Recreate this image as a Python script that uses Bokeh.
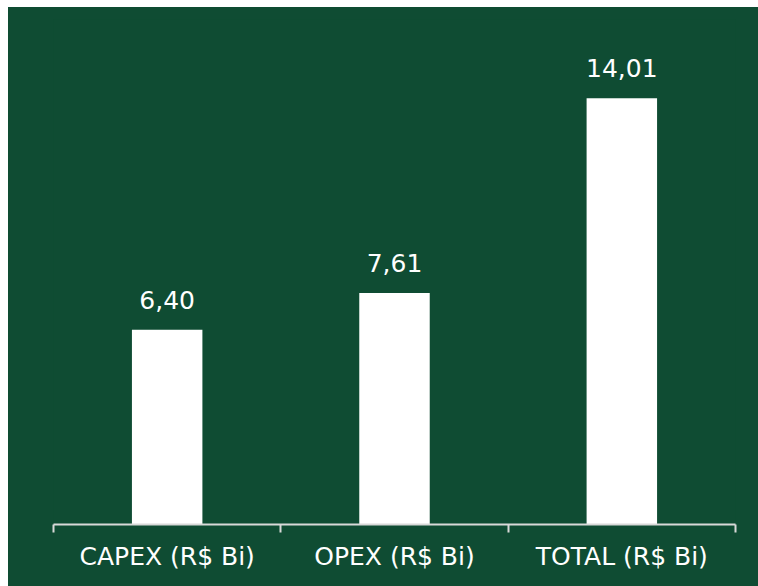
from bokeh.plotting import figure
from bokeh.models import ColumnDataSource, FixedTicker, Range1d
from bokeh.core.properties import value
from bokeh.embed import file_html
from bokeh.resources import INLINE

categories = ["CAPEX (R$ Bi)", "OPEX (R$ Bi)", "TOTAL (R$ Bi)"]
values = [6.40, 7.61, 14.01]
value_labels = ["6,40", "7,61", "14,01"]

GREEN = "#0F4C33"
FONT = "DejaVu Sans"

xs = [i + 0.5 for i in range(len(categories))]
src = ColumnDataSource(dict(x=xs, top=values, lab=value_labels))

p = figure(width=750, height=579, output_backend="svg", toolbar_location=None,
           x_range=Range1d(0, len(categories)), y_range=Range1d(0, 16.6),
           min_border_left=45, min_border_right=23, min_border_top=12,
           min_border_bottom=62)
p.margin = (7, 0, 0, 8)
p.styles = {"background-color": GREEN}
p.background_fill_color = GREEN
p.border_fill_color = GREEN
p.outline_line_color = None
p.grid.visible = False
p.yaxis.visible = False

p.vbar(x="x", top="top", bottom=0, width=0.31, source=src,
       fill_color="white", line_color=None)
p.text(x="x", y="top", text="lab", source=src, text_align="center",
       text_baseline="alphabetic", y_offset=-30, text_color="white",
       text_font=value(FONT), text_font_size="25px")

ax = p.xaxis[0]
ax.ticker = FixedTicker(ticks=xs, minor_ticks=list(range(len(categories) + 1)))
ax.major_label_overrides = {x: c for x, c in zip(xs, categories)}
ax.major_tick_line_color = None
ax.minor_tick_line_color = "#D9D9D9"
ax.minor_tick_line_width = 2
ax.minor_tick_out = 8
ax.minor_tick_in = 0
ax.axis_line_color = "#D9D9D9"
ax.axis_line_width = 2
ax.major_label_text_color = "white"
ax.major_label_text_font = FONT
ax.major_label_text_font_size = "25px"
ax.major_label_standoff = 9

open("out.html", "w").write(file_html(p, INLINE))
